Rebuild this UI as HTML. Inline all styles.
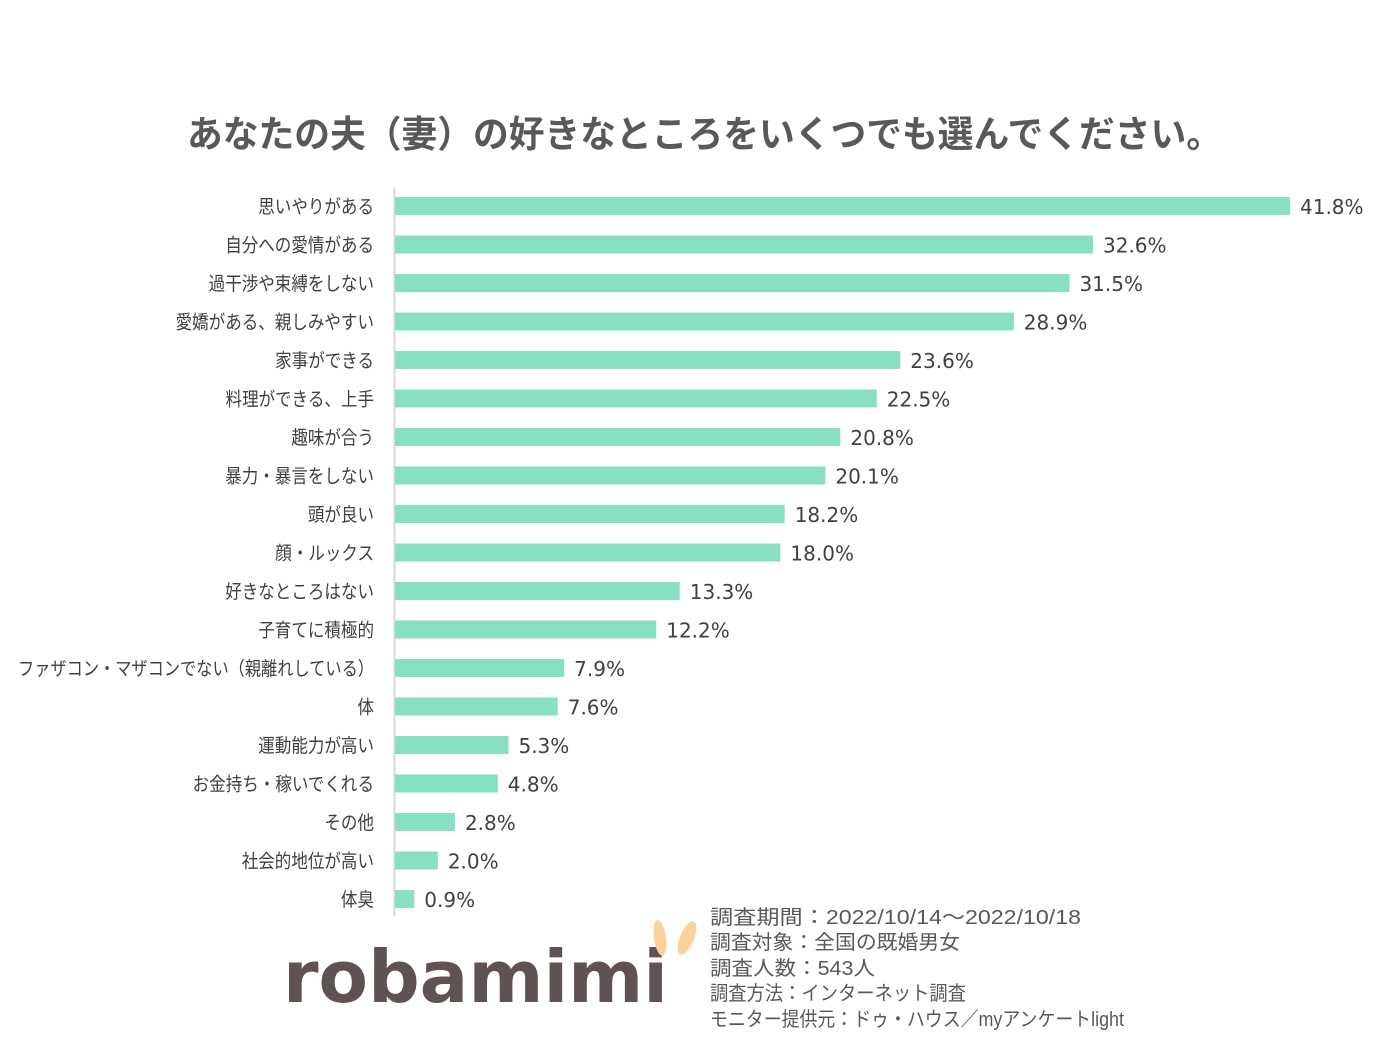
<!DOCTYPE html>
<html><head><meta charset="utf-8"><style>
html,body{margin:0;padding:0;background:#fff;}
svg{display:block;}
</style></head><body>
<svg id="chart" width="1386" height="1044" xmlns="http://www.w3.org/2000/svg">
<text x="187" y="147" textLength="1035" lengthAdjust="spacingAndGlyphs" font-family="'Liberation Sans','Noto Sans CJK JP',sans-serif" font-size="37" font-weight="bold" fill="#595959">あなたの夫（妻）の好きなところをいくつでも選んでください。</text>
<line x1="394.5" y1="187" x2="394.5" y2="916" stroke="#d9d9d9" stroke-width="2"/>
<g id="bars"></g>
<g>
<text x="283" y="1002" textLength="385" lengthAdjust="spacingAndGlyphs" font-family="'DejaVu Sans',sans-serif" font-size="72" font-weight="bold" fill="#5e5352">robamimi</text>
<ellipse cx="660" cy="938" rx="6" ry="18" fill="#fbd39a" transform="rotate(-8 660 938)"/>
<ellipse cx="687" cy="938" rx="7" ry="18" fill="#fbd39a" transform="rotate(22 687 938)"/>
</g>
<g font-family="'Liberation Sans','Noto Sans CJK JP',sans-serif" font-size="20" fill="#595959">
<text x="710" y="924" textLength="371" lengthAdjust="spacingAndGlyphs">調査期間：2022/10/14～2022/10/18</text>
<text x="710" y="949" textLength="250" lengthAdjust="spacingAndGlyphs">調査対象：全国の既婚男女</text>
<text x="710" y="975" textLength="165" lengthAdjust="spacingAndGlyphs">調査人数：543人</text>
<text x="710" y="1000" textLength="256" lengthAdjust="spacingAndGlyphs">調査方法：インターネット調査</text>
<text x="710" y="1026" textLength="414" lengthAdjust="spacingAndGlyphs">モニター提供元：ドゥ・ハウス／myアンケートlight</text>
</g>
</svg>
<script>
const categories=["思いやりがある","自分への愛情がある","過干渉や束縛をしない","愛嬌がある、親しみやすい","家事ができる","料理ができる、上手","趣味が合う","暴力・暴言をしない","頭が良い","顔・ルックス","好きなところはない","子育てに積極的","ファザコン・マザコンでない（親離れしている）","体","運動能力が高い","お金持ち・稼いでくれる","その他","社会的地位が高い","体臭"];
const values=[41.8,32.6,31.5,28.9,23.6,22.5,20.8,20.1,18.2,18.0,13.3,12.2,7.9,7.6,5.3,4.8,2.8,2.0,0.9];
const valueLabels=["41.8%","32.6%","31.5%","28.9%","23.6%","22.5%","20.8%","20.1%","18.2%","18.0%","13.3%","12.2%","7.9%","7.6%","5.3%","4.8%","2.8%","2.0%","0.9%"];
const NS="http://www.w3.org/2000/svg";
const x0=395, pxPer=(1290-395)/41.8;
const xScale=v=>x0+v*pxPer;
const yScale=i=>206+i*38.5;
const g=document.getElementById('bars');
categories.forEach((c,i)=>{
  const cy=yScale(i);
  const r=document.createElementNS(NS,'rect');
  r.setAttribute('x',x0);r.setAttribute('y',cy-9);
  r.setAttribute('width',xScale(values[i])-x0);r.setAttribute('height',18);
  r.setAttribute('fill','#88e0c2');
  
  
  g.appendChild(r);
  const t=document.createElementNS(NS,'text');
  t.setAttribute('x',374);t.setAttribute('y',cy+7);
  t.setAttribute('text-anchor','end');
  t.setAttribute('font-family',"'Liberation Sans','Noto Sans CJK JP',sans-serif");
  t.setAttribute('font-size','19');t.setAttribute('fill','#404040');
  t.textContent=c;
  
  
  g.appendChild(t);
  let w=t.getComputedTextLength()*0.87;
  if(w>356) w=356;
  t.setAttribute('textLength',w);
  t.setAttribute('lengthAdjust','spacingAndGlyphs');
  const v=document.createElementNS(NS,'text');
  v.setAttribute('x',xScale(values[i])+10);v.setAttribute('y',cy+8);
  v.setAttribute('font-family',"'DejaVu Sans',sans-serif");
  v.setAttribute('font-size','20');v.setAttribute('fill','#404040');
  v.textContent=valueLabels[i];
  
  
  g.appendChild(v);
});
</script>
</body></html>
